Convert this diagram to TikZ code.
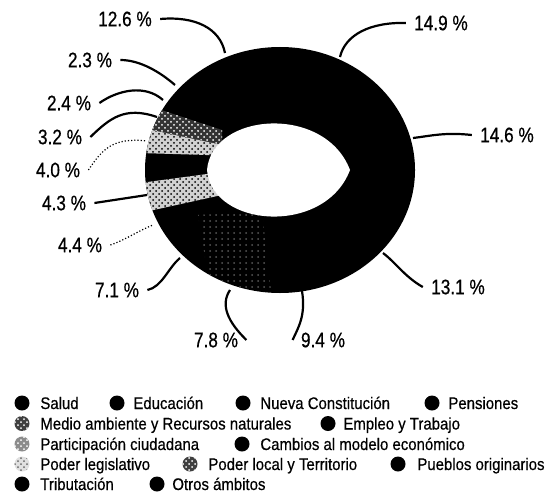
\documentclass[tikz,border=0pt]{standalone}
\usepackage{fontspec}
\newfontfamily\pctfont[FakeStretch=0.82,FakeBold=0.6]{Liberation Sans}
\newfontfamily\legfont[FakeStretch=0.89,FakeBold=0.5]{Liberation Sans}
\usetikzlibrary{patterns}

\begin{document}
\begin{tikzpicture}
	[
		x=0.5pt, y=-0.5pt,
		pct/.style = {font=\pctfont\fontsize{10.5}{12}\selectfont, inner xsep=4pt, inner ysep=1pt, anchor=center},
		lead/.style = {line width=1.1pt},
		faint/.style = {line width=0.6pt, densely dotted},
		band/.style = {preaction={fill=black!18}, pattern=crosshatch dots, pattern color=black},
		greyband/.style = {preaction={fill=black!80}, pattern=crosshatch dots, pattern color=white},
		speck/.style = {pattern=dots, pattern color=black!65},
		legtext/.style = {font=\legfont\fontsize{8.4}{10}\selectfont, anchor=base west, inner sep=0pt},
		legbase/.style = {shape=circle, minimum size=7.5pt, inner sep=0pt},
		legdot/.style = {legbase, fill=black},
		legdark/.style = {legbase, preaction={fill=black!75}, pattern=crosshatch dots, pattern color=white},
		leglight/.style = {legbase, preaction={fill=black!45}, pattern=crosshatch dots, pattern color=white},
		legpale/.style = {legbase, preaction={fill=black!12}, pattern=crosshatch dots, pattern color=black!60}
	]
	
	\useasboundingbox (0,0) rectangle (549,497);
	
	\fill[black] (280,170) ellipse [x radius=135, y radius=123];
	
	\begin{scope}
		\clip (280,170) ellipse [x radius=135, y radius=123];
		\fill[greyband] (140,103) -- (222,130) -- (222,145) -- (140,127.5) -- cycle;
		\fill[band] (140,127.5) -- (222,145) -- (222,155.5) -- (140,153) -- cycle;
		\fill[band] (140,183) -- (222,172) -- (222,195) -- (140,213) -- cycle;
		\fill[speck] (198,215) -- (262,212) -- (272,300) -- (212,300) -- cycle;
	\end{scope}
	
	\fill[white] (207,170) .. controls (212,112) and (325,104) .. (350,170)
		.. controls (325,236) and (212,228) .. (207,170) -- cycle;
	
	\node [pct] (l149) at (441,23) {14.9 \%};
	\node [pct] (l146) at (507,135) {14.6 \%};
	\node [pct] (l131) at (458,287) {13.1 \%};
	\node [pct] (l94) at (323,340) {9.4 \%};
	\node [pct] (l78) at (216,340) {7.8 \%};
	\node [pct] (l71) at (117,290) {7.1 \%};
	\node [pct] (l44) at (80,245) {4.4 \%};
	\node [pct] (l43) at (64,203) {4.3 \%};
	\node [pct] (l40) at (58,170) {4.0 \%};
	\node [pct] (l32) at (60,137) {3.2 \%};
	\node [pct] (l24) at (69,103) {2.4 \%};
	\node [pct] (l23) at (90,60) {2.3 \%};
	\node [pct] (l126) at (125,19) {12.6 \%};
	
	\coordinate (r149) at (340,57);
	\coordinate (r146) at (413,138);
	\coordinate (r131) at (383,253);
	\coordinate (r94) at (302,291);
	\coordinate (r78) at (230,290);
	\coordinate (r71) at (180,258);
	\coordinate (r44) at (153,225);
	\coordinate (r43) at (147,195);
	\coordinate (r40) at (147,141);
	\coordinate (r32) at (157,117);
	\coordinate (r24) at (163,100);
	\coordinate (r23) at (175,85);
	\coordinate (r126) at (225,53);
	
	\draw[lead] (l149.west) .. controls (370,22) and (345,35) .. (r149);
	\draw[lead] (l146.west) .. controls (445,132) and (430,136) .. (r146);
	\draw[lead] (l131.west) .. controls (405,277) and (395,262) .. (r131);
	\draw[lead] (l94.west) .. controls (298,328) and (306,316) .. (r94);
	\draw[lead] (l78.east) .. controls (228,322) and (220,305) .. (r78);
	\draw[lead] (l71.east) .. controls (162,287) and (168,268) .. (r71);
	\draw[faint] (l44.east) .. controls (125,240) and (140,230) .. (r44);
	\draw[lead] (l43.east) -- (r43);
	\draw[faint] (l40.east) .. controls (102,150) and (112,137) .. (r40);
	\draw[lead] (l32.east) .. controls (110,118) and (125,106) .. (r32);
	\draw[lead] (l24.east) .. controls (118,90) and (145,84) .. (r24);
	\draw[lead] (l23.east) .. controls (140,60) and (160,72) .. (r23);
	\draw[lead] (l126.east) .. controls (195,16) and (220,28) .. (r126);
	
	\def\y{403}
	\node [legdot] (dsal) at (22,\y) {};
	\node [legtext] (tsal) at (40,{\y+6}) {Salud};
	\node [legdot] (dedu) at (117,\y) {};
	\node [legtext] (tedu) at (133,{\y+6}) {Educación};
	\node [legdot] (dcon) at (243,\y) {};
	\node [legtext] (tcon) at (260,{\y+6}) {Nueva Constitución};
	\node [legdot] (dpen) at (432,\y) {};
	\node [legtext] (tpen) at (448,{\y+6}) {Pensiones};
	
	\def\y{423.5}
	\node [legdark] (dmed) at (22,\y) {};
	\node [legtext] (tmed) at (40,{\y+6}) {Medio ambiente y Recursos naturales};
	\node [legdot] (demp) at (328,\y) {};
	\node [legtext] (temp) at (343,{\y+6}) {Empleo y Trabajo};
	
	\def\y{444}
	\node [leglight] (dpar) at (22,\y) {};
	\node [legtext] (tpar) at (40,{\y+6}) {Participación ciudadana};
	\node [legdot] (dcam) at (242,\y) {};
	\node [legtext] (tcam) at (260,{\y+6}) {Cambios al modelo económico};
	
	\def\y{464}
	\node [legpale] (dleg) at (22,\y) {};
	\node [legtext] (tleg) at (40,{\y+6}) {Poder legislativo};
	\node [legdark] (dloc) at (190,\y) {};
	\node [legtext] (tloc) at (208,{\y+6}) {Poder local y Territorio};
	\node [legdot] (dpue) at (398,\y) {};
	\node [legtext] (tpue) at (417,{\y+6}) {Pueblos originarios};
	
	\def\y{484}
	\node [legdot] (dtri) at (22,\y) {};
	\node [legtext] (ttri) at (40,{\y+6}) {Tributación};
	\node [legdot] (dotr) at (157,\y) {};
	\node [legtext] (totr) at (172,{\y+6}) {Otros ámbitos};
	
\end{tikzpicture}
\end{document}
